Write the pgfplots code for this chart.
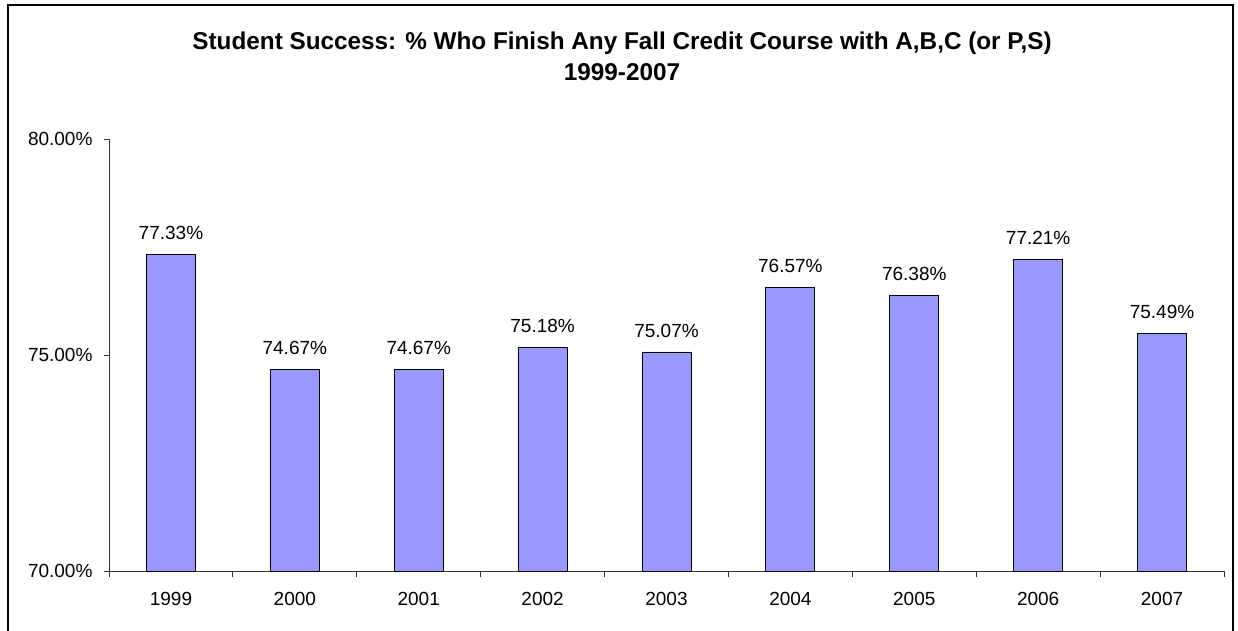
\documentclass[border=0pt]{standalone}
\usepackage{pgfplots}
\pgfplotsset{compat=1.18}
\usepackage{fontspec}
\setmainfont{Liberation Sans}
\definecolor{barblue}{HTML}{9999FF}
\begin{document}
\begin{tikzpicture}[x=1pt,y=1pt]
\useasboundingbox (0,0) rectangle (1238,631);
\draw[line width=1.5pt] (8,-20) rectangle (1233,626);
\node[align=center,font=\fontsize{24.3}{31}\selectfont\bfseries] at (622,575) {Student Success: \% Who Finish Any Fall Credit Course with A,B,C (or P,S)\\1999-2007};
\begin{axis}[
  at={(109pt,60pt)}, anchor=south west,
  scale only axis, width=1115pt, height=432pt,
  xmin=-0.5, xmax=8.5, ymin=70, ymax=80,
  axis x line=bottom, axis y line=left,
  axis line style={-, line width=0.8pt, black!80},
  xtick={0,...,8},
  xticklabels={1999,2000,2001,2002,2003,2004,2005,2006,2007},
  major x tick style={draw=none},
  minor xtick={-0.5,0.5,...,8.5},
  minor tick length=6pt,
  major tick length=5pt,
  tick align=outside,
  tick style={line width=0.8pt, black!80},
  ytick={70,75,80},
  yticklabels={70.00\%,75.00\%,80.00\%},
  ticklabel style={font=\fontsize{19}{22}\selectfont},
  yticklabel style={xshift=-8pt},
  xticklabel style={yshift=-13pt},
  /pgf/number format/assume math mode=true,
  ybar, bar width=49pt,
  nodes near coords={\pgfmathprintnumber[fixed,fixed zerofill,precision=2]{\pgfplotspointmeta}\%},
  every node near coord/.append style={font=\fontsize{19}{22}\selectfont, yshift=11pt},
  clip=false,
]
\addplot[fill=barblue, draw=black, line width=0.8pt] coordinates {
(0,77.33) (1,74.67) (2,74.67) (3,75.18) (4,75.07) (5,76.57) (6,76.38) (7,77.21) (8,75.49)};
\end{axis}
\end{tikzpicture}
\end{document}
